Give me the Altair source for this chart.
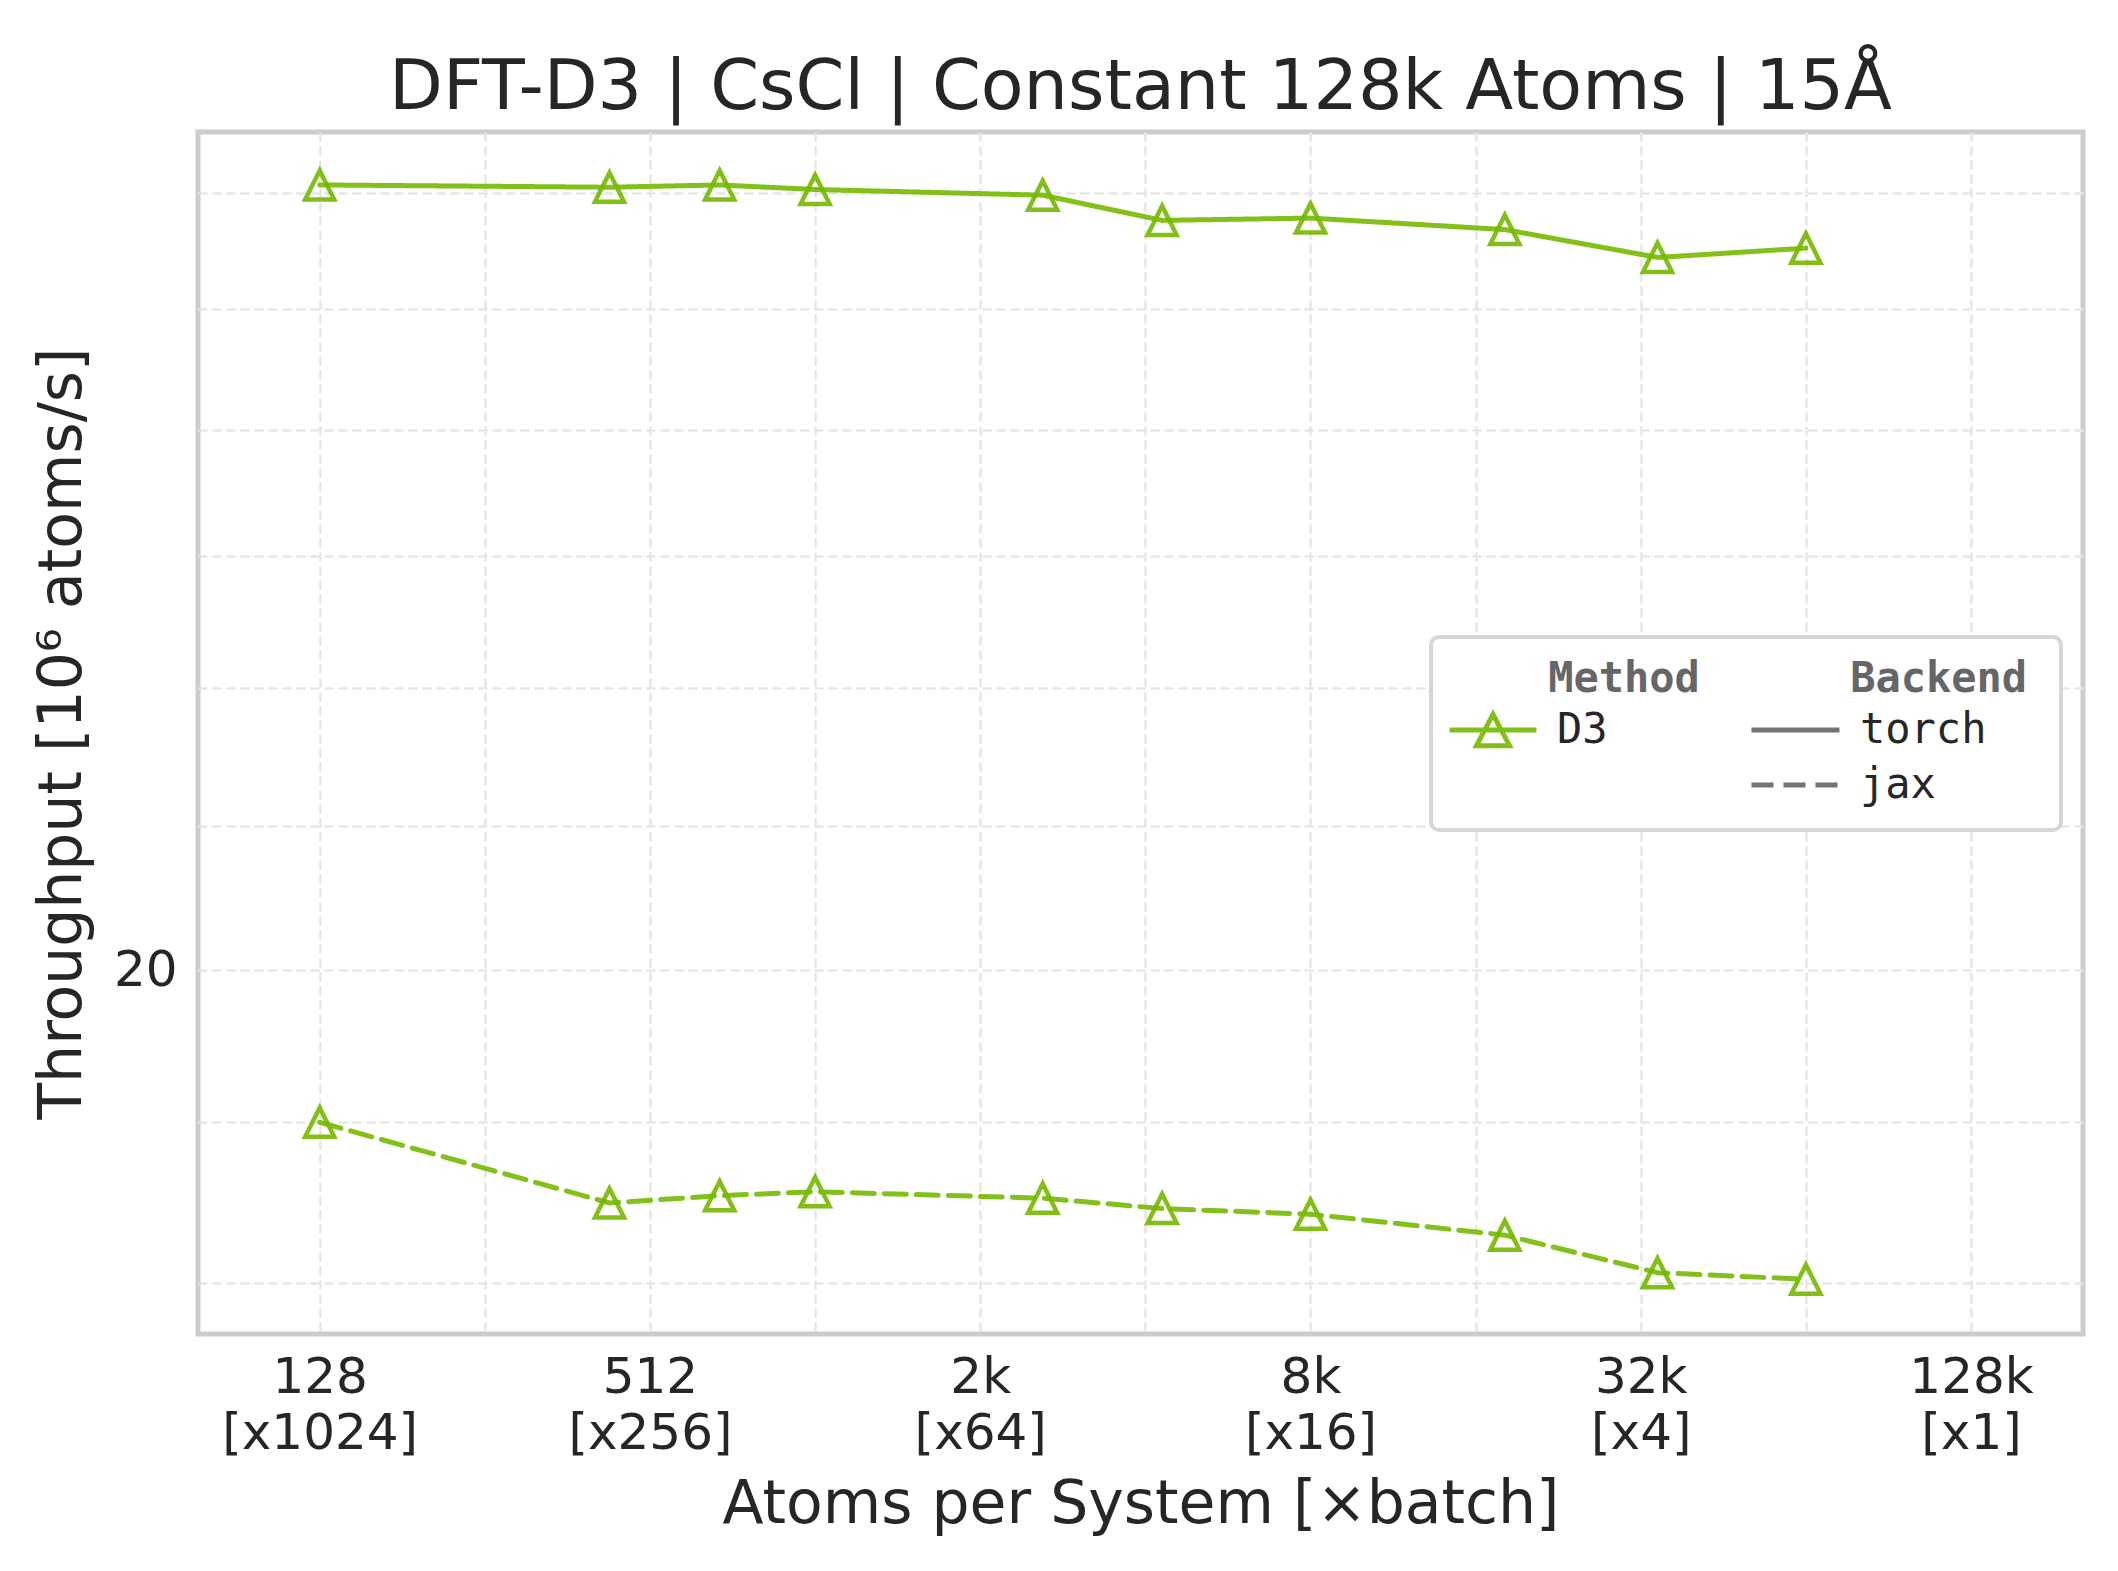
import altair as alt
import pandas as pd

# ---- data ----
sizes = [128, 432, 686, 1024, 2662, 4394, 8192, 18522, 35152, 65536]
torch_vals = [26.07, 26.05, 26.07, 26.03, 25.98, 25.76, 25.78, 25.68, 25.44, 25.52]
jax_vals = [19.00, 18.49, 18.535, 18.56, 18.52, 18.455, 18.42, 18.29, 18.06, 18.02]
backends = ["torch", "jax"]
methods = ["D3"]

x_tick_values = [128, 256, 512, 1024, 2048, 4096, 8192, 16384, 32768, 65536, 131072]
x_major_values = [128, 512, 2048, 8192, 32768, 131072]
x_major_sizes = ["128", "512", "2k", "8k", "32k", "128k"]
x_major_batches = ["[x1024]", "[x256]", "[x64]", "[x16]", "[x4]", "[x1]"]
y_tick_values = [18, 19, 20, 21, 22, 23, 24, 25, 26]
y_labelled = ["20"]

rows = []
for b, vals in zip(backends, [torch_vals, jax_vals]):
    for s, v in zip(sizes, vals):
        rows.append({"method": methods[0], "backend": b, "atoms": s, "throughput": v})
df = pd.DataFrame(rows)

GREEN = "#76b900"
TEXT = "#262626"
TRI = "M0,-1L-1,1L1,1Z"
LEG_SYM = "M-1,0L1,0M0,-0.36L-0.38,0.36L0.38,0.36Z"

x_label_expr = " : ".join(
    f"datum.value == {v} ? ['{a}', '{b}']"
    for v, a, b in zip(x_major_values, x_major_sizes, x_major_batches)
) + " : ''"
y_label_expr = " : ".join(f"datum.value == {v} ? '{v}'" for v in y_labelled) + " : ''"

x_enc = alt.X(
    "atoms:Q",
    scale=alt.Scale(type="log", base=2, domain=[76.8, 209715.2], nice=False),
    axis=alt.Axis(
        values=x_tick_values,
        labelExpr=x_label_expr,
        title="Atoms per System [×batch]",
        labelPadding=18,
        labelLineHeight=56,
        titlePadding=17,
        labelOverlap=False,
        labelLimit=600,
    ),
)
y_enc = alt.Y(
    "throughput:Q",
    scale=alt.Scale(type="log", domain=[17.69, 26.54], nice=False, zero=False),
    axis=alt.Axis(
        values=y_tick_values,
        labelExpr=y_label_expr,
        title="Throughput [10⁶ atoms/s]",
        labelPadding=21,
        titlePadding=20,
        labelOverlap=False,
        labelLimit=600,
    ),
)

PAD = "\u200b" + "\u00a0" * 4
method_legend = alt.Legend(
    title=PAD + "Method",
    orient="none",
    legendX=1249,
    legendY=527,
    symbolType=LEG_SYM,
    symbolSize=7569,
    symbolStrokeWidth=5,
    symbolFillColor="transparent",
)
color_enc = alt.Color(
    "method:N",
    scale=alt.Scale(domain=methods, range=[GREEN]),
    legend=method_legend,
)

lines = alt.Chart(df).mark_line(strokeWidth=5, opacity=0.9, strokeCap="round").encode(
    x=x_enc,
    y=y_enc,
    color=color_enc,
    strokeDash=alt.StrokeDash(
        "backend:N",
        scale=alt.Scale(domain=backends, range=[[1, 0], [22, 10]]),
        legend=alt.Legend(
            title=PAD + "Backend",
            orient="none",
            legendX=1551,
            legendY=527,
            symbolType="stroke",
            symbolSize=7744,
            symbolStrokeWidth=5,
            symbolStrokeColor="#666666",
        ),
    ),
    order=alt.Order("atoms:Q"),
)

points = alt.Chart(df).mark_point(
    shape=TRI, size=841, filled=False, strokeWidth=4.5, opacity=0.9
).encode(x=x_enc, y=y_enc, color=color_enc)

legend_box = alt.Chart(pd.DataFrame({"k": [0]})).mark_rect(
    fill="white", stroke="#d6d6d6", strokeWidth=4, cornerRadius=8
).encode(
    x=alt.value(1233), x2=alt.value(1863), y=alt.value(505), y2=alt.value(698)
)

chart = (
    alt.layer(lines, points, legend_box)
    .properties(
        width=1885,
        height=1202,
        autosize="none",
        padding={"left": 190, "top": 124, "right": 20, "bottom": 220},
        title=alt.TitleParams(
            "DFT-D3 | CsCl | Constant 128k Atoms | 15Å",
            fontSize=70,
            font="DejaVu Sans",
            fontWeight="normal",
            color=TEXT,
            baseline="alphabetic",
            offset=-47,
            anchor="middle",
        ),
    )
    .configure_view(stroke="#cccccc", strokeWidth=5)
    .configure_axis(
        labelFont="DejaVu Sans",
        labelFontSize=50,
        labelColor=TEXT,
        titleFont="DejaVu Sans",
        titleFontSize=60,
        titleFontWeight="normal",
        titleColor=TEXT,
        grid=True,
        gridColor="#e6e6e6",
        gridDash=[9, 5],
        gridWidth=2.5,
        domain=False,
        ticks=False,
        tickSize=0,
    )
    .configure_legend(
        titleFont="DejaVu Sans Mono",
        titleFontSize=42,
        titleFontWeight="bold",
        titleColor="#666666",
        titleLimit=800,
        labelFont="DejaVu Sans Mono",
        labelFontSize=42,
        labelColor=TEXT,
        labelLimit=800,
        padding=0,
        rowPadding=13,
        titlePadding=8,
        clipHeight=42,
        labelOffset=18,
    )
)

chart.save("out.html", embed_options={"renderer": "svg", "actions": False})
